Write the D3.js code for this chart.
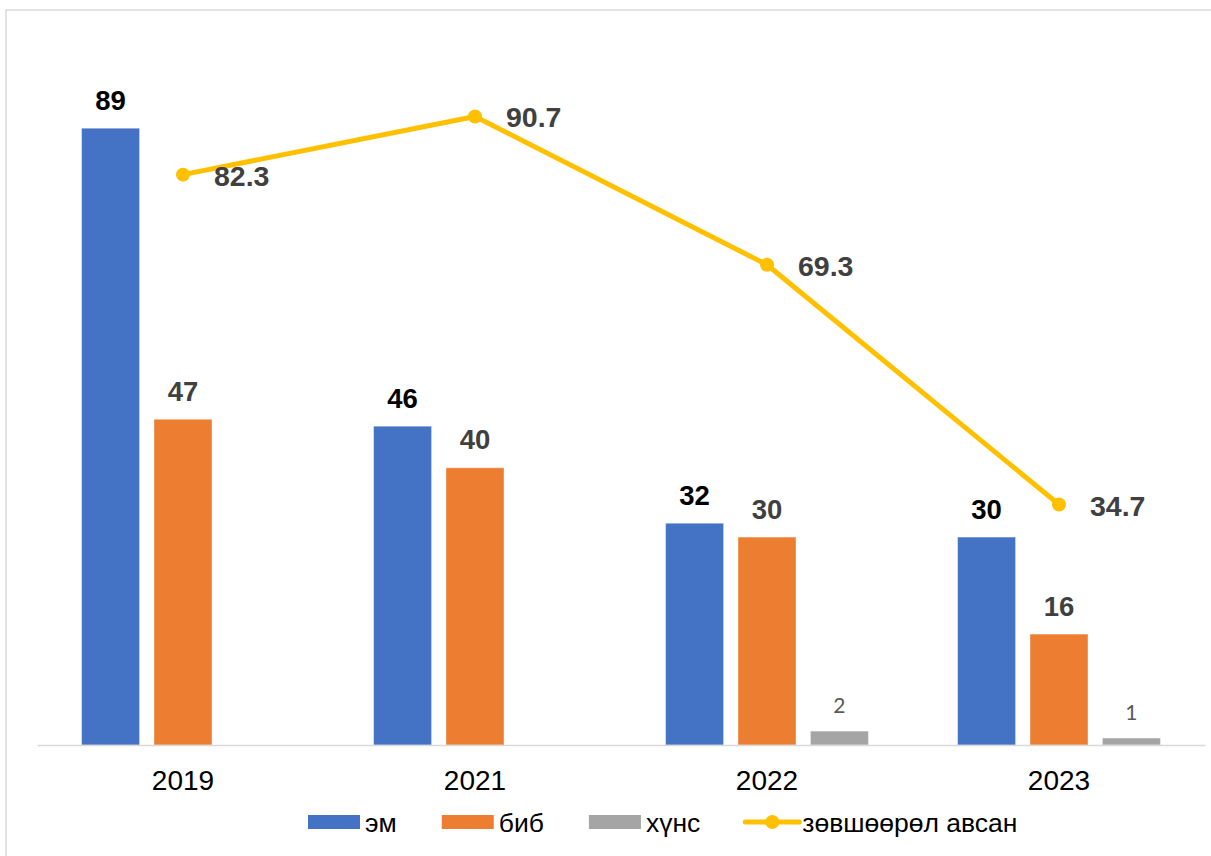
<!DOCTYPE html>
<html>
<head>
<meta charset="utf-8">
<script src="https://cdn.jsdelivr.net/npm/d3@7"></script>
<style>
  html, body { margin: 0; padding: 0; background: #fff; }
  svg { display: block; }
</style>
</head>
<body>
<svg id="chart" width="1211" height="856"></svg>
<script>
// Years on the category axis
const years = ["2019", "2021", "2022", "2023"];

// Bar series (counts)
const barSeries = ["эм", "биб", "хүнс"];
const em  = [89, 46, 32, 30];
const bib = [47, 40, 30, 16];
const khuns = [null, null, 2, 1];

// Line series
const lineName = "зөвшөөрөл авсан";
const approved = [82.3, 90.7, 69.3, 34.7];

const barValues = [em, bib, khuns];
const barColors = ["#4472C4", "#ED7D31", "#A5A5A5"];
const labelColors = ["#000000", "#404040", "#595959"];
const lineColor = "#FFC000";

const FONT = "'Liberation Sans', Arial, sans-serif";

const svg = d3.select("#chart");

// Chart frame (left and top edges visible)
svg.append("path")
  .attr("d", "M6,860 L6,10 L1215,10")
  .attr("fill", "none")
  .attr("stroke", "#d9d9d9")
  .attr("stroke-width", 1.5);

const x = d3.scaleBand().domain(years).range([37, 1205]).paddingInner(0).paddingOuter(0);
const xSub = d3.scaleBand().domain(barSeries)
  .range([x.bandwidth() / 2 - 101.4, x.bandwidth() / 2 + 101.4])
  .paddingInner(0.2).paddingOuter(0);
const y = d3.scaleLinear().domain([0, 100]).range([745, 52]);

// Bars
barSeries.forEach((name, si) => {
  const data = years.map((yr, i) => ({ yr, v: barValues[si][i] })).filter(d => d.v != null);
  const g = svg.append("g");
  g.selectAll("rect").data(data).enter().append("rect")
    .attr("x", d => x(d.yr) + xSub(name))
    .attr("width", xSub.bandwidth())
    .attr("y", d => y(d.v))
    .attr("height", d => y(0) - y(d.v))
    .attr("fill", barColors[si])
    .attr("stroke", "#ffffff")
    .attr("stroke-opacity", 0.35)
    .attr("stroke-width", 1);

  g.selectAll("text").data(data).enter().append("text")
    .attr("x", d => x(d.yr) + xSub(name) + xSub.bandwidth() / 2)
    .attr("y", d => y(d.v) - 18.5)
    .attr("text-anchor", "middle")
    .attr("font-family", si === 2 ? "Lato, 'Liberation Sans', sans-serif" : FONT)
    .attr("font-weight", si === 2 ? "normal" : "bold")
    .attr("font-size", si === 2 ? 21 : 27.5)
    .attr("fill", labelColors[si])
    .text(d => d.v);
});

// Category axis baseline and labels
const xAxis = d3.axisBottom(x).tickSize(0).tickPadding(0);
const axisG = svg.append("g").attr("transform", `translate(0,${y(0)})`).call(xAxis);
axisG.select(".domain").attr("stroke", "#d9d9d9").attr("stroke-width", 1.5);
axisG.selectAll(".tick text")
  .attr("y", 45)
  .attr("dy", 0)
  .attr("font-family", FONT)
  .attr("font-size", 28)
  .attr("fill", "#000");

// Line series
const pts = years.map((yr, i) => ({ yr, v: approved[i] }));
const line = d3.line().x(d => x(d.yr) + x.bandwidth() / 2).y(d => y(d.v));
svg.append("path")
  .datum(pts)
  .attr("d", line)
  .attr("fill", "none")
  .attr("stroke", lineColor)
  .attr("stroke-width", 5)
  .attr("stroke-linejoin", "round");
svg.append("g").selectAll("circle").data(pts).enter().append("circle")
  .attr("cx", d => x(d.yr) + x.bandwidth() / 2)
  .attr("cy", d => y(d.v))
  .attr("r", 7)
  .attr("fill", lineColor);
svg.append("g").selectAll("text").data(pts).enter().append("text")
  .attr("x", d => x(d.yr) + x.bandwidth() / 2 + 31)
  .attr("y", d => y(d.v) + 11)
  .attr("font-family", FONT)
  .attr("font-weight", "bold")
  .attr("font-size", 28.5)
  .attr("fill", "#404040")
  .text(d => d3.format(".1f")(d.v));

// Legend
const legendItems = barSeries.map((n, i) => ({ name: n, color: barColors[i], type: "bar" }))
  .concat([{ name: lineName, color: lineColor, type: "line" }]);
const legend = svg.append("g");
let lx = 308;
const ly = 822;
legendItems.forEach(item => {
  const g = legend.append("g");
  if (item.type === "bar") {
    g.append("rect").attr("x", lx).attr("y", ly - 7).attr("width", 52).attr("height", 14).attr("fill", item.color);
  } else {
    g.append("line").attr("x1", lx).attr("x2", lx + 54).attr("y1", ly).attr("y2", ly)
      .attr("stroke", item.color).attr("stroke-width", 5).attr("stroke-linecap", "round");
    g.append("circle").attr("cx", lx + 27).attr("cy", ly).attr("r", 7).attr("fill", item.color);
  }
  const t = g.append("text")
    .attr("x", lx + 57)
    .attr("y", ly + 10)
    .attr("font-family", FONT)
    .attr("font-size", 26.5)
    .attr("fill", "#000")
    .text(item.name);
  lx = lx + 57 + t.node().getComputedTextLength() + 45;
});
</script>
</body>
</html>
